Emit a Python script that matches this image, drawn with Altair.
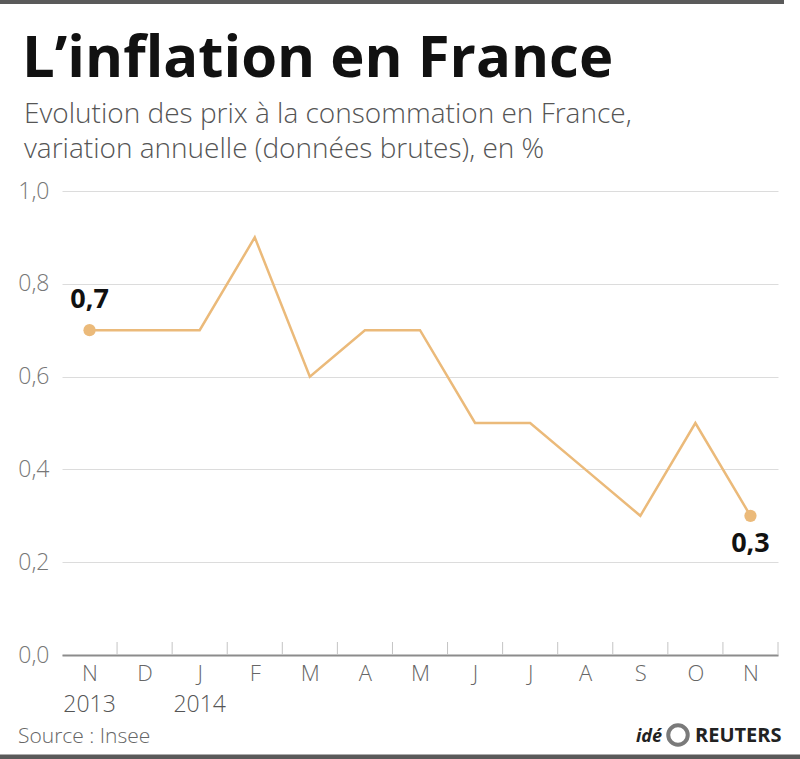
import altair as alt
import pandas as pd

# ---- data ----
months = ["N", "D", "J", "F", "M", "A", "M", "J", "J", "A", "S", "O", "N"]
values = [0.7, 0.7, 0.7, 0.9, 0.6, 0.7, 0.7, 0.5, 0.5, 0.4, 0.3, 0.5, 0.3]
year_idx = [0, 2]
year_labels = ["2013", "2014"]
y_ticks = [0.0, 0.2, 0.4, 0.6, 0.8, 1.0]
title_text = "L’inflation en France"
subtitle_lines = ["Evolution des prix à la consommation en France,",
                  "variation annuelle (données brutes), en %"]
source_text = "Source : Insee"

W, H = 716, 464
TOP, LEFT = 191, 62
LINE_COLOR = "#EBBA7A"
FONT = "Open Sans"

df = pd.DataFrame({"idx": list(range(len(months))), "month": months, "value": values})
df["lab"] = [f"{v:.1f}".replace(".", ",") for v in values]
years_df = pd.DataFrame({"idx": year_idx, "year": year_labels})
one = pd.DataFrame({"k": [0]})

month_expr = "[" + ",".join(f"'{m}'" for m in months) + "][datum.value]"

xscale = alt.Scale(domain=[-0.5, len(months) - 0.5], nice=False, zero=False)
yscale = alt.Scale(domain=[0, 1], nice=False)

base = alt.Chart(df)

line = base.mark_line(color=LINE_COLOR, strokeWidth=2.5).encode(
    x=alt.X("idx:Q", scale=xscale, title=None, axis=alt.Axis(
        values=list(range(len(months))), labelExpr=month_expr, title=None,
        grid=False, ticks=False, domainColor="#8c8c8c", domainWidth=2,
        labelFontSize=22, labelColor="#666666", labelFont=FONT,
        labelFontWeight=300, labelPadding=8)),
    y=alt.Y("value:Q", scale=yscale, title=None, axis=alt.Axis(
        values=y_ticks, labelExpr="replace(format(datum.value, '.1f'), '.', ',')",
        title=None, domain=False, ticks=False, gridColor="#dcdcdc", gridWidth=1,
        labelFontSize=23, labelColor="#777777", labelFont=FONT,
        labelFontWeight=300, labelPadding=13)),
)

ticks = base.transform_calculate(b="datum.idx + 0.5").mark_rule(
    color="#c4c4c4", strokeWidth=1).encode(
    x=alt.X("b:Q", scale=xscale, title=None),
    y=alt.value(H), y2=alt.value(H - 13))

ends = base.transform_filter(f"datum.idx == 0 || datum.idx == {len(months)-1}")
points = ends.mark_circle(size=150, opacity=1, color=LINE_COLOR).encode(
    x=alt.X("idx:Q", scale=xscale, title=None),
    y=alt.Y("value:Q", scale=yscale, title=None))

lab_first = base.transform_filter("datum.idx == 0").mark_text(
    font=FONT, fontWeight="bold", fontSize=27, color="#111111", dy=-30,
    baseline="middle").encode(
    x=alt.X("idx:Q", scale=xscale, title=None),
    y=alt.Y("value:Q", scale=yscale, title=None), text="lab:N")
lab_last = base.transform_filter(f"datum.idx == {len(months)-1}").mark_text(
    font=FONT, fontWeight="bold", fontSize=27, color="#111111", dy=28,
    baseline="middle").encode(
    x=alt.X("idx:Q", scale=xscale, title=None),
    y=alt.Y("value:Q", scale=yscale, title=None), text="lab:N")

years = alt.Chart(years_df).mark_text(
    font=FONT, fontWeight=300, fontSize=23, color="#555555", baseline="middle").encode(
    x=alt.X("idx:Q", scale=xscale, title=None), y=alt.value(514), text="year:N")

c1 = alt.Chart(one)
title = c1.mark_text(font=FONT, fontWeight="bold", fontSize=58, color="#111111",
                     align="left", baseline="alphabetic").encode(
    x=alt.value(22 - LEFT), y=alt.value(77 - TOP), text=alt.value(title_text))
sub1 = c1.mark_text(font=FONT, fontWeight=300, fontSize=28, color="#555555",
                    align="left", baseline="alphabetic").encode(
    x=alt.value(24 - LEFT), y=alt.value(123 - TOP), text=alt.value(subtitle_lines[0]))
sub2 = c1.mark_text(font=FONT, fontWeight=300, fontSize=28, color="#555555",
                    align="left", baseline="alphabetic").encode(
    x=alt.value(24 - LEFT), y=alt.value(158 - TOP), text=alt.value(subtitle_lines[1]))
source = c1.mark_text(font=FONT, fontWeight=300, fontSize=21, color="#666666",
                      align="left", baseline="alphabetic").encode(
    x=alt.value(18 - LEFT), y=alt.value(743 - TOP), text=alt.value(source_text))
ide = c1.mark_text(font=FONT, fontWeight="bold", fontStyle="italic", fontSize=18,
                   color="#222222", align="left", baseline="alphabetic").encode(
    x=alt.value(636 - LEFT), y=alt.value(742 - TOP), text=alt.value("idé"))
globe = c1.mark_point(shape="circle", size=380, filled=False, color="#7a7a7a",
                      strokeWidth=4, opacity=1).encode(
    x=alt.value(678 - LEFT), y=alt.value(735 - TOP))
reuters = c1.mark_text(font=FONT, fontWeight="bold", fontSize=20,
                       color="#222222", align="left", baseline="alphabetic").encode(
    x=alt.value(695 - LEFT), y=alt.value(742 - TOP), text=alt.value("REUTERS"))

top_bar = c1.mark_rule(color="#5a5a5a", strokeWidth=4).encode(
    x=alt.value(-LEFT), x2=alt.value(784 - LEFT), y=alt.value(2 - TOP))
bottom_bar = c1.mark_rule(color="#5a5a5a", strokeWidth=5).encode(
    x=alt.value(-LEFT), x2=alt.value(800 - LEFT), y=alt.value(757 - TOP))

chart = alt.layer(
    line, ticks, points, lab_first, lab_last, years,
    title, sub1, sub2, source, ide, globe, reuters, top_bar, bottom_bar
).properties(
    width=W, height=H,
    padding={"left": LEFT, "top": TOP, "right": 800 - LEFT - W, "bottom": 759 - TOP - H},
    autosize="none", background="white",
).configure_view(stroke=None)

chart.save("out.html", embed_options={"renderer": "svg", "actions": False})
